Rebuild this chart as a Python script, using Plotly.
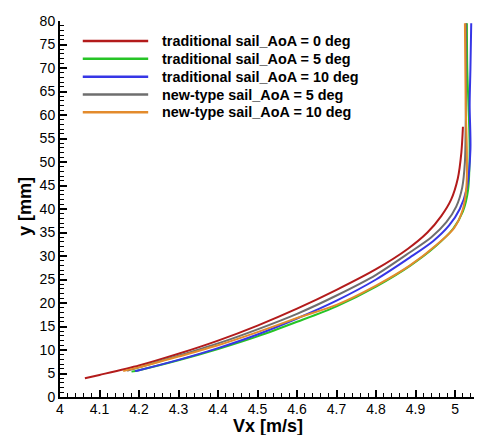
import plotly.graph_objects as go

# ---- data ----
names = [
    "traditional sail_AoA = 0 deg",
    "traditional sail_AoA = 5 deg",
    "traditional sail_AoA = 10 deg",
    "new-type sail_AoA = 5 deg",
    "new-type sail_AoA = 10 deg",
]
colors = ["#B31B1B", "#26C426", "#3636E6", "#6E6E6E", "#E38B2C"]

trad0_x = [4.063, 4.10, 4.20, 4.30, 4.40, 4.50, 4.60, 4.70, 4.80, 4.88, 4.93, 4.965, 4.990, 5.007, 5.016, 5.020]
trad0_y = [4.0, 4.7, 6.7, 9.2, 12.0, 15.2, 18.8, 22.8, 27.2, 31.5, 35.0, 38.5, 42.0, 46.5, 52.0, 57.5]

trad5_x = [4.181, 4.20, 4.30, 4.40, 4.50, 4.60, 4.70, 4.80, 4.886, 4.950, 4.995, 5.020, 5.033, 5.037, 5.034, 5.031, 5.030]
trad5_y = [5.4, 5.7, 7.8, 10.2, 12.9, 16.0, 19.3, 23.5, 27.9, 32.0, 35.8, 39.5, 44.0, 52.8, 62.0, 70.0, 79.5]

trad10_x = [4.19, 4.20, 4.30, 4.40, 4.50, 4.60, 4.70, 4.80, 4.886, 4.945, 4.985, 5.012, 5.030, 5.039, 5.037, 5.039, 5.041]
trad10_y = [5.5, 5.7, 7.9, 10.4, 13.3, 16.7, 20.5, 25.0, 29.7, 33.2, 36.5, 40.0, 44.5, 52.8, 62.0, 70.0, 79.5]

new5_x = [4.17, 4.20, 4.30, 4.40, 4.50, 4.60, 4.70, 4.80, 4.886, 4.940, 4.978, 5.003, 5.018, 5.025, 5.027, 5.028, 5.028]
new5_y = [5.6, 6.3, 8.8, 11.4, 14.4, 17.7, 21.6, 26.0, 30.8, 34.0, 37.2, 40.5, 44.5, 50.0, 58.0, 68.0, 79.5]

new10_x = [4.16, 4.20, 4.30, 4.40, 4.50, 4.60, 4.70, 4.80, 4.886, 4.955, 4.998, 5.020, 5.029, 5.030, 5.027, 5.025]
new10_y = [5.5, 6.3, 8.6, 11.0, 13.8, 16.8, 19.6, 23.7, 28.0, 32.5, 36.0, 40.0, 45.0, 52.0, 62.0, 79.5]

series_x = [trad0_x, trad5_x, trad10_x, new5_x, new10_x]
series_y = [trad0_y, trad5_y, trad10_y, new5_y, new10_y]

x_tickvals = [4.0, 4.1, 4.2, 4.3, 4.4, 4.5, 4.6, 4.7, 4.8, 4.9, 5.0]
x_ticktext = ["4", "4.1", "4.2", "4.3", "4.4", "4.5", "4.6", "4.7", "4.8", "4.9", "5"]
y_tickvals = [0, 5, 10, 15, 20, 25, 30, 35, 40, 45, 50, 55, 60, 65, 70, 75, 80]

FONT = "Liberation Sans, Arial, sans-serif"

fig = go.Figure()
for xs, ys, c, n in zip(series_x, series_y, colors, names):
    fig.add_trace(go.Scatter(
        x=xs, y=ys, mode="lines", name=n, showlegend=False, cliponaxis=False,
        line=dict(color=c, width=2, shape="spline", smoothing=0.8),
    ))

# custom legend (long line samples like the reference)
leg_y0 = 0.947
leg_dy = 0.0475
for i, (c, n) in enumerate(zip(colors, names)):
    yy = leg_y0 - i * leg_dy
    fig.add_shape(type="line", xref="paper", yref="paper",
                  x0=0.055, x1=0.213, y0=yy, y1=yy,
                  line=dict(color=c, width=2.5))
    fig.add_annotation(xref="paper", yref="paper", x=0.2415, y=yy,
                       text="<b>%s</b>" % n, showarrow=False,
                       xanchor="left", yanchor="middle",
                       font=dict(family=FONT, size=14.4, color="black"))

# axis titles as annotations
fig.add_annotation(xref="paper", yref="paper", x=0.502, y=0, yshift=-29,
                   text="<b>Vx [m/s]</b>", showarrow=False,
                   xanchor="center", yanchor="middle",
                   font=dict(family=FONT, size=18, color="black"))
fig.add_annotation(xref="paper", yref="paper", x=0, xshift=-35, y=0.505,
                   text="<b>y [mm]</b>", showarrow=False, textangle=-90,
                   xanchor="center", yanchor="middle",
                   font=dict(family=FONT, size=18, color="black"))

fig.update_layout(
    width=477, height=435,
    margin=dict(l=60, r=3, t=21, b=38),
    paper_bgcolor="white", plot_bgcolor="white",
    font=dict(family=FONT, size=14, color="black"),
)
fig.update_xaxes(
    range=[4.0, 5.048], automargin=False, showgrid=False, zeroline=False,
    showline=True, linecolor="black", linewidth=2,
    ticks="inside", ticklen=7, tickwidth=2, tickcolor="black",
    tickvals=x_tickvals, ticktext=x_ticktext, ticklabelstandoff=-2,
    tickfont=dict(family=FONT, size=14, color="black"),
    minor=dict(dtick=0.02, tick0=4.0, ticks="inside", ticklen=4, tickwidth=1, tickcolor="black", showgrid=False),
)
fig.update_yaxes(
    range=[0, 80], automargin=False, showgrid=False, zeroline=False,
    showline=True, linecolor="black", linewidth=2,
    ticks="inside", ticklen=7, tickwidth=2, tickcolor="black",
    tickvals=y_tickvals,
    tickfont=dict(family=FONT, size=14, color="black"),
    minor=dict(dtick=1, tick0=0, ticks="inside", ticklen=4, tickwidth=1, tickcolor="black", showgrid=False),
)

fig.write_html(
    "out.html",
    config={"displayModeBar": False},
    post_script="document.body.style.margin='0px';document.body.style.overflow='hidden';",
)
